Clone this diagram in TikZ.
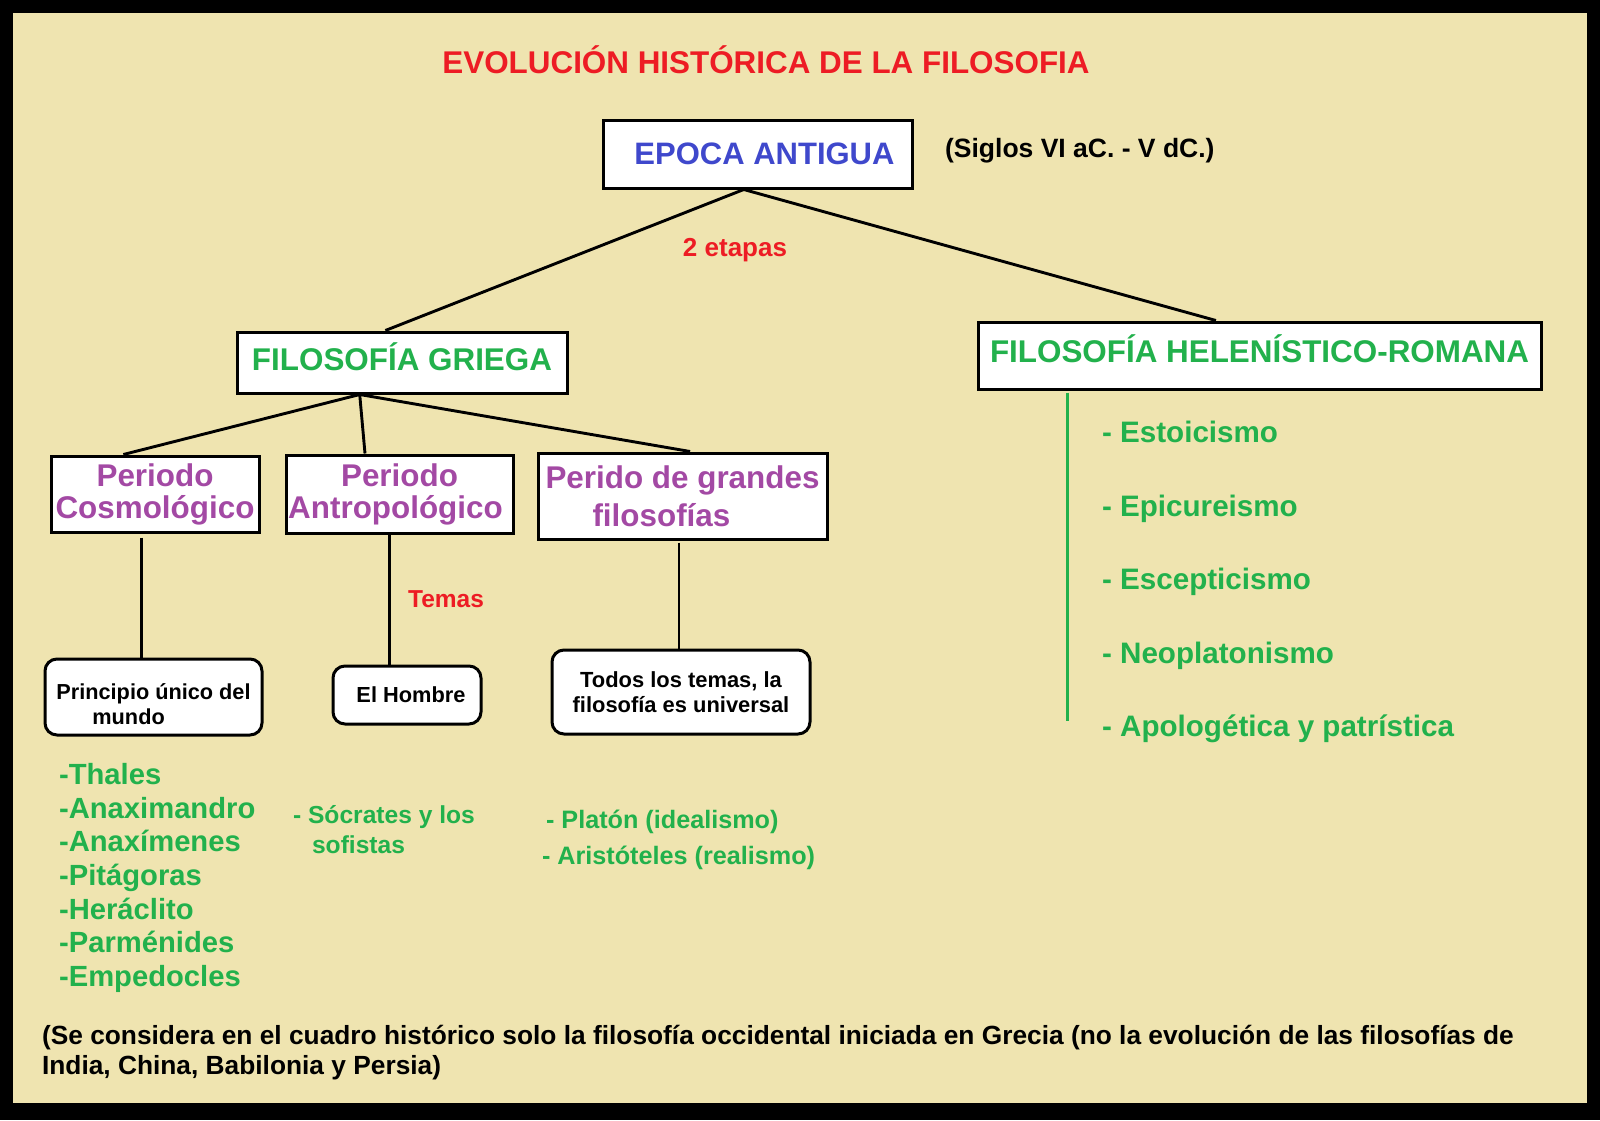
\documentclass[tikz,border=0pt]{standalone}
\usepackage{fontspec}
\setmainfont{Liberation Sans}[BoldFont={* Bold}]
\usetikzlibrary{calc}
\definecolor{tan}{HTML}{EFE4B0}
\definecolor{pred}{HTML}{ED1C24}
\definecolor{pblue}{HTML}{3F48CC}
\definecolor{pgreen}{HTML}{22B14C}
\definecolor{ppurple}{HTML}{A349A4}
\newcommand{\fs}[2]{\fontsize{#1}{#2}\selectfont\bfseries}
\tikzset{
  box/.style={draw, line width=1.5pt, fill=white, inner sep=0pt},
  rbox/.style={box, rounded corners=6pt},
  conn/.style={line width=1.45pt},
}
\begin{document}
\begin{tikzpicture}[x=0.5pt,y=-0.5pt]
\useasboundingbox (0,0) rectangle (1600,1120);
%Shape: frame and background
\fill[black] (0,0) rectangle (1600,1120);
\fill[tan] (13,13) rectangle (1587,1103);

%Title
\node[text=pred, font=\fs{15.7}{18}] (title) at (766,60) {EVOLUCIÓN HISTÓRICA DE LA FILOSOFIA};

%Shape: Rectangle, top level
\node[box, minimum width=154.5pt, minimum height=34pt, text=pblue, font=\fs{15.5}{18}] (epoca) at (757.5,154) {\hspace*{7pt}EPOCA ANTIGUA};
\node[anchor=west, font=\fs{13.25}{16}] (siglos) at (938,151) {(Siglos VI aC. - V dC.)};

%Shape: Rectangle, second level
\node[box, minimum width=165pt, minimum height=30.5pt, text height=14.1pt, text depth=6pt, text=pgreen, font=\fs{15.7}{18}] (griega) at (402,362.5) {FILOSOFÍA GRIEGA};
\node[box, minimum width=281.5pt, minimum height=33.5pt, text height=14.1pt, text depth=7pt, text=pgreen, font=\fs{15.7}{18}] (helen) at (1259.5,355.5) {FILOSOFÍA HELENÍSTICO-ROMANA};
\node[text=pred, font=\fs{13}{16}] (etapas) at (735,250) {2 etapas};

%Straight Lines
\draw[conn] ($(epoca.south west)!0.456!(epoca.south east)$) -- ($(griega.north west)!0.45!(griega.north east)$);
\draw[conn] ($(epoca.south west)!0.456!(epoca.south east)$) -- ($(helen.north west)!0.423!(helen.north east)$);

%Shape: Rectangle, periods
\node[box, minimum width=104pt, minimum height=38pt, text=ppurple, align=center, font=\fs{15.7}{16}] (cosmo) at (155,494) {Periodo\\Cosmológico};
\node[box, minimum width=113.5pt, minimum height=39pt, text=ppurple, align=center, font=\fs{15.7}{16}] (antro) at (399.5,494) {Periodo\\Antropológico\hspace*{4pt}};
\node[box, minimum width=144.5pt, minimum height=43pt, text=ppurple, align=left, font=\fs{15.7}{19}] (grandes) at (682.5,496) {Perido de grandes\\\hspace*{23.5pt}filosofías};

%Straight Lines
\draw[conn] ($(griega.south west)!0.373!(griega.south east)$) -- ($(cosmo.north west)!0.35!(cosmo.north east)$);
\draw[conn] ($(griega.south west)!0.373!(griega.south east)$) -- ($(antro.north west)!0.35!(antro.north east)$);
\draw[conn] ($(griega.south west)!0.373!(griega.south east)$) -- ($(grandes.north west)!0.526!(grandes.north east)$);

%Shape: Rounded Rectangle, themes
\node[rbox, minimum width=108.5pt, minimum height=38pt, align=left, font=\fs{10.85}{12.5}] (principio) at (153.5,697) {\rule{0pt}{15pt}Principio único del\\\hspace*{18pt}mundo};
\node[rbox, minimum width=74pt, minimum height=29pt, font=\fs{10.9}{12.5}] (hombre) at (407,695) {\hspace*{4pt}El Hombre};
\node[rbox, minimum width=129pt, minimum height=42pt, align=center, font=\fs{10.95}{12.5}] (todos) at (681,692) {Todos los temas, la\\filosofía es universal};
\node[text=pred, font=\fs{12.25}{15}] (temas) at (446,599) {Temas};

%Straight Lines
\coordinate (c1) at ($(cosmo.south west)!0.4375!(cosmo.south east)+(0,4)$);
\coordinate (c2) at ($(antro.south west)!0.458!(antro.south east)$);
\coordinate (c3) at ($(grandes.south west)!0.488!(grandes.south east)+(0,2)$);
\draw[conn] (c1) -- (c1 |- principio.north);
\draw[conn] (c2) -- (c2 |- hombre.north);
\draw[conn] (c3) -- (c3 |- todos.north);

%Lists
\node[anchor=west, text=pgreen, align=left, font=\fs{14.6}{16.85}] (presocraticos) at (52,878) {-Thales\\-Anaximandro\\-Anaxímenes\\-Pitágoras\\-Heráclito\\-Parménides\\-Empedocles};
\node[anchor=west, text=pgreen, align=left, font=\fs{12.3}{15}] (socrates) at (286,830) {- Sócrates y los\\\hspace*{9.5pt}sofistas};
\node[anchor=west, text=pgreen, align=left, font=\fs{12.6}{18}] (platon) at (535,840) {\hspace*{2pt}- Platón (idealismo)\\- Aristóteles (realismo)};

%Helenistic schools
\coordinate (h1) at ($(helen.south west)!0.16!(helen.south east)+(0,2)$);
\coordinate (h2) at (h1 |- 0,721);
\draw[pgreen, line width=1.5pt] (h1) -- (h2);
\node[anchor=west, text=pgreen, align=left, font=\fs{14.8}{36.75}] (escuelas) at (1095,582) {- Estoicismo\\- Epicureismo\\- Escepticismo\\- Neoplatonismo\\- Apologética y patrística};

%Footer
\node[anchor=west, align=left, font=\fs{13.15}{15}] (nota) at (35,1052.5) {(Se considera en el cuadro histórico solo la filosofía occidental iniciada en Grecia (no la evolución de las filosofías de\\India, China, Babilonia y Persia)};
\end{tikzpicture}
\end{document}
